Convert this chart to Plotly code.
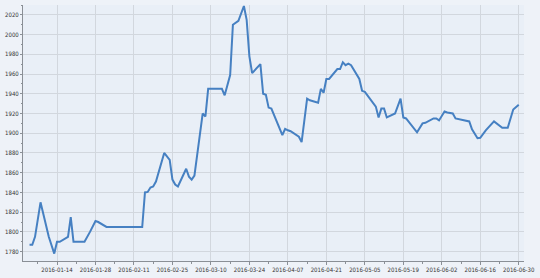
import plotly.graph_objects as go

dates = [
    "2016-01-04", "2016-01-05", "2016-01-06", "2016-01-08", "2016-01-11", "2016-01-13",
    "2016-01-14", "2016-01-15", "2016-01-18", "2016-01-19", "2016-01-20", "2016-01-24",
    "2016-01-26", "2016-01-28", "2016-01-29", "2016-02-01", "2016-02-14", "2016-02-15",
    "2016-02-16", "2016-02-17", "2016-02-18", "2016-02-19", "2016-02-22", "2016-02-23",
    "2016-02-24", "2016-02-25", "2016-02-26", "2016-02-27", "2016-02-28", "2016-03-01",
    "2016-03-02", "2016-03-03", "2016-03-04", "2016-03-07", "2016-03-08", "2016-03-09",
    "2016-03-14", "2016-03-15", "2016-03-17", "2016-03-18", "2016-03-20", "2016-03-22",
    "2016-03-23", "2016-03-24", "2016-03-25", "2016-03-28", "2016-03-29", "2016-03-30",
    "2016-03-31", "2016-04-01", "2016-04-05", "2016-04-06", "2016-04-07", "2016-04-08",
    "2016-04-11", "2016-04-12", "2016-04-14", "2016-04-15", "2016-04-18", "2016-04-19",
    "2016-04-20", "2016-04-21", "2016-04-22", "2016-04-25", "2016-04-26", "2016-04-27",
    "2016-04-28", "2016-04-29", "2016-04-30", "2016-05-03", "2016-05-04", "2016-05-05",
    "2016-05-09", "2016-05-10", "2016-05-11", "2016-05-12", "2016-05-13", "2016-05-16",
    "2016-05-18", "2016-05-19", "2016-05-20", "2016-05-24", "2016-05-26", "2016-05-27",
    "2016-05-30", "2016-05-31", "2016-06-01", "2016-06-03", "2016-06-04", "2016-06-06",
    "2016-06-07", "2016-06-12", "2016-06-13", "2016-06-14", "2016-06-15", "2016-06-16",
    "2016-06-18", "2016-06-21", "2016-06-24", "2016-06-26", "2016-06-28", "2016-06-30",
]

values = [
    1787, 1787, 1795, 1830, 1795, 1778,
    1790, 1790, 1795, 1815, 1790, 1790,
    1800, 1811, 1810, 1805, 1805, 1840,
    1840.5, 1845, 1846, 1851, 1880, 1876,
    1873, 1853, 1848, 1846, 1852.6, 1864,
    1856, 1853, 1857, 1920, 1917, 1945,
    1945, 1938.5, 1959, 2010, 2014, 2029,
    2015, 1978, 1961, 1970, 1940, 1939,
    1926, 1925, 1898, 1904.5, 1903, 1902,
    1896.5, 1891, 1935, 1933.4, 1931, 1945,
    1941, 1955, 1955, 1965, 1965, 1972,
    1969, 1970.5, 1969, 1955, 1943, 1942,
    1927, 1916, 1925, 1925, 1916, 1920,
    1935, 1916, 1915, 1901, 1910, 1910.6,
    1915, 1915, 1913, 1922, 1921, 1920,
    1915, 1912, 1904, 1899, 1895, 1895.4,
    1903, 1912, 1905.5, 1905.5, 1924, 1929,
]

x_ticks = ["2016-01-14", "2016-01-28", "2016-02-11", "2016-02-25", "2016-03-10",
           "2016-03-24", "2016-04-07", "2016-04-21", "2016-05-05", "2016-05-19",
           "2016-06-02", "2016-06-16", "2016-06-30"]
y_ticks = [1780, 1800, 1820, 1840, 1860, 1880, 1900, 1920, 1940, 1960, 1980, 2000, 2020]

fig = go.Figure()
fig.add_trace(go.Scatter(
    x=dates, y=values, mode="lines",
    line=dict(color="#4680c2", width=2),
    hoverinfo="x+y",
))

axis_font = dict(family="DejaVu Sans Condensed, Liberation Sans, sans-serif", size=6, color="#333333")

fig.update_layout(
    width=540, height=278,
    margin=dict(l=16, r=12, t=5, b=16),
    paper_bgcolor="#eef2f8",
    plot_bgcolor="#e9eff7",
    showlegend=False,
    xaxis=dict(
        type="date",
        range=["2016-01-01 15:00", "2016-07-01 22:00"],
        tickvals=x_ticks,
        ticktext=x_ticks,
        tickfont=axis_font,
        showgrid=True, gridcolor="#d2d7de", gridwidth=1,
        showline=True, linecolor="#8a8f96", linewidth=1,
        ticks="outside", ticklen=3, tickcolor="#8a8f96",
        minor=dict(ticks="outside", ticklen=2, tickcolor="#8a8f96", dtick=7 * 86400000, tick0="2016-01-07", showgrid=False),
        zeroline=False,
    ),
    yaxis=dict(
        range=[1770.5, 2030],
        tickvals=y_ticks,
        tickfont=axis_font,
        showgrid=True, gridcolor="#d2d7de", gridwidth=1,
        showline=True, linecolor="#8a8f96", linewidth=1,
        ticks="outside", ticklen=2, tickcolor="#8a8f96",
        minor=dict(ticks="outside", ticklen=1, tickcolor="#8a8f96", dtick=10, showgrid=False),
        zeroline=False,
    ),
)

fig.write_html("out.html")
